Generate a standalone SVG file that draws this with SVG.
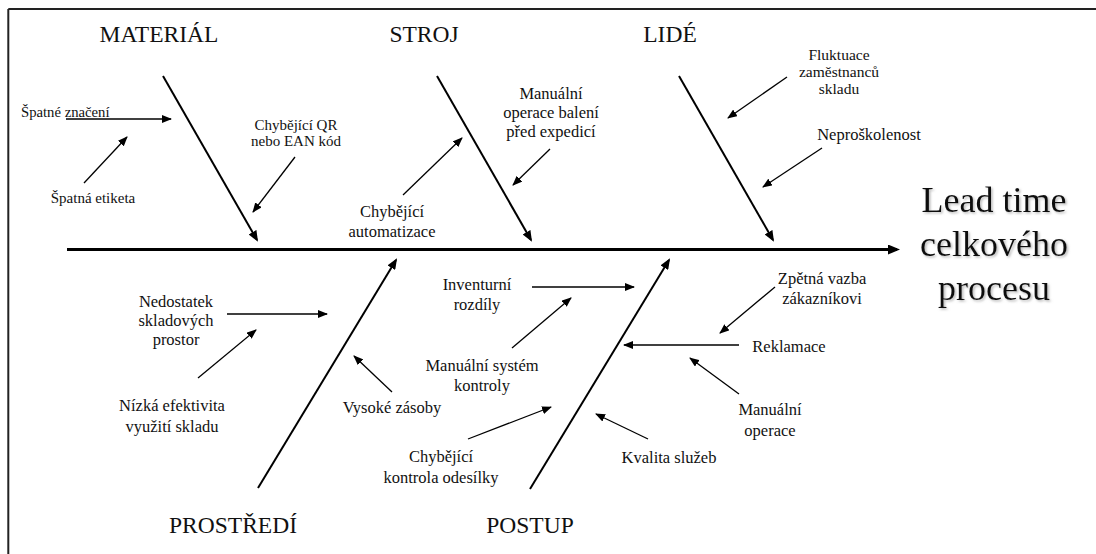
<svg xmlns="http://www.w3.org/2000/svg" width="1096" height="554" viewBox="0 0 1096 554">
  <defs>
    <style>
      .frame { stroke: #222; stroke-width: 2; fill: none; }
      .spine { stroke: #000; stroke-width: 3; fill: none; }
      .bone { stroke: #000; stroke-width: 2; fill: none; }
      .cause { stroke: #000; stroke-width: 1.3; fill: none; }
      text { font-family: "Liberation Serif", "Times New Roman", serif; fill: #111; }
      .cat { font-size: 23.5px; text-anchor: middle; }
      .lbl { font-size: 16.5px; text-anchor: middle; }
      .sm { font-size: 15px; text-anchor: middle; }
      .effect { font-size: 36px; text-anchor: middle; filter: url(#shadow); }
    </style>
    <marker id="headS" viewBox="0 0 10 8" refX="9" refY="4" markerWidth="10" markerHeight="8" markerUnits="userSpaceOnUse" orient="auto">
      <path d="M0,0 L10,4 L0,8 z" fill="#000"/>
    </marker>
    <marker id="headM" viewBox="0 0 11 9" refX="9" refY="4.5" markerWidth="11" markerHeight="9" markerUnits="userSpaceOnUse" orient="auto">
      <path d="M0,0 L11,4.5 L0,9 z" fill="#000"/>
    </marker>
    <marker id="headL" viewBox="0 0 12 10" refX="9" refY="5" markerWidth="12" markerHeight="10" markerUnits="userSpaceOnUse" orient="auto">
      <path d="M0,0 L12,5 L0,10 z" fill="#000"/>
    </marker>
    <filter id="shadow" x="-10%" y="-20%" width="120%" height="140%">
      <feDropShadow dx="1.5" dy="1.5" stdDeviation="0.8" flood-color="#888" flood-opacity="0.6"/>
    </filter>
  </defs>

  <rect width="1096" height="554" fill="#fff"/>

  <!-- frame edges -->
  <g id="frame">
    <line class="frame" x1="8.3" y1="9" x2="1096" y2="9"/>
    <line class="frame" x1="8.3" y1="9" x2="8.3" y2="554"/>
  </g>

  <!-- spine, category bones and cause arrows -->
  <g id="connectors">
    <line class="spine" x1="67" y1="249.5" x2="897" y2="249.5" marker-end="url(#headL)"/>

    <line class="bone" x1="163" y1="76" x2="257" y2="240" marker-end="url(#headM)"/>
    <line class="bone" x1="437" y1="76" x2="531" y2="240" marker-end="url(#headM)"/>
    <line class="bone" x1="679" y1="76" x2="773" y2="240" marker-end="url(#headM)"/>
    <line class="bone" x1="258" y1="488" x2="396" y2="260" marker-end="url(#headM)"/>
    <line class="bone" x1="530" y1="489" x2="669" y2="260" marker-end="url(#headM)"/>

    <line class="cause" x1="66" y1="119" x2="171" y2="119" marker-end="url(#headS)"/>
    <line class="cause" x1="84" y1="183" x2="127" y2="137" marker-end="url(#headS)"/>
    <line class="cause" x1="295" y1="157" x2="253" y2="212" marker-end="url(#headS)"/>
    <line class="cause" x1="403" y1="195" x2="462" y2="138" marker-end="url(#headS)"/>
    <line class="cause" x1="550" y1="149" x2="513" y2="185" marker-end="url(#headS)"/>
    <line class="cause" x1="787" y1="77" x2="728" y2="118" marker-end="url(#headS)"/>
    <line class="cause" x1="822" y1="148" x2="763" y2="187" marker-end="url(#headS)"/>

    <line class="cause" x1="227" y1="314" x2="327" y2="314" marker-end="url(#headS)"/>
    <line class="cause" x1="198" y1="378" x2="256" y2="330" marker-end="url(#headS)"/>
    <line class="cause" x1="392" y1="392" x2="354" y2="356" marker-end="url(#headS)"/>
    <line class="cause" x1="532" y1="287" x2="634" y2="287" marker-end="url(#headS)"/>
    <line class="cause" x1="512" y1="348" x2="571" y2="298" marker-end="url(#headS)"/>
    <line class="cause" x1="468" y1="439" x2="551" y2="407" marker-end="url(#headS)"/>
    <line class="cause" x1="648" y1="439" x2="596" y2="414" marker-end="url(#headS)"/>
    <line class="cause" x1="739" y1="345" x2="624" y2="345" marker-end="url(#headS)"/>
    <line class="cause" x1="739" y1="394" x2="690" y2="358" marker-end="url(#headS)"/>
    <line class="cause" x1="775" y1="287" x2="720" y2="333" marker-end="url(#headS)"/>
  </g>

  <!-- categories -->
  <g id="cat-material"><text class="cat" x="159" y="42">MATERIÁL</text></g>
  <g id="cat-stroj"><text class="cat" x="424" y="42">STROJ</text></g>
  <g id="cat-lide"><text class="cat" x="670" y="42">LIDÉ</text></g>
  <g id="cat-prostredi"><text class="cat" x="233" y="533">PROSTŘEDÍ</text></g>
  <g id="cat-postup"><text class="cat" x="530" y="533">POSTUP</text></g>

  <!-- effect -->
  <g id="effect">
    <text class="effect" x="994" y="212">Lead time</text>
    <text class="effect" x="994" y="256">celkového</text>
    <text class="effect" x="994" y="300">procesu</text>
  </g>

  <!-- causes: material -->
  <g id="c-spatne-znaceni"><text class="sm" x="21" y="117" style="text-anchor:start;font-size:14.7px">Špatné značení</text></g>
  <g id="c-spatna-etiketa"><text class="sm" x="93" y="203">Špatná etiketa</text></g>
  <g id="c-chybejici-qr">
    <text class="sm" x="296" y="130">Chybějící QR</text>
    <text class="sm" x="296" y="146">nebo EAN kód</text>
  </g>

  <!-- causes: stroj -->
  <g id="c-manualni-baleni">
    <text class="lbl" x="551" y="99">Manuální</text>
    <text class="lbl" x="551" y="118">operace balení</text>
    <text class="lbl" x="551" y="137">před expedicí</text>
  </g>
  <g id="c-automatizace">
    <text class="lbl" x="392" y="217">Chybějící</text>
    <text class="lbl" x="392" y="237">automatizace</text>
  </g>

  <!-- causes: lide -->
  <g id="c-fluktuace">
    <text class="lbl" x="839" y="60" style="font-size:15.5px">Fluktuace</text>
    <text class="lbl" x="839" y="77" style="font-size:15.5px">zaměstnanců</text>
    <text class="lbl" x="839" y="94" style="font-size:15.5px">skladu</text>
  </g>
  <g id="c-neproskolenost"><text class="lbl" x="869" y="140">Neproškolenost</text></g>

  <!-- causes: prostredi -->
  <g id="c-nedostatek">
    <text class="lbl" x="176" y="307">Nedostatek</text>
    <text class="lbl" x="176" y="326">skladových</text>
    <text class="lbl" x="176" y="345">prostor</text>
  </g>
  <g id="c-nizka-efektivita">
    <text class="lbl" x="172" y="411">Nízká efektivita</text>
    <text class="lbl" x="172" y="432">využití skladu</text>
  </g>
  <g id="c-vysoke-zasoby"><text class="lbl" x="392" y="413">Vysoké zásoby</text></g>

  <!-- causes: postup -->
  <g id="c-inventurni">
    <text class="lbl" x="477" y="290">Inventurní</text>
    <text class="lbl" x="477" y="310">rozdíly</text>
  </g>
  <g id="c-manualni-kontrola">
    <text class="lbl" x="482" y="371">Manuální systém</text>
    <text class="lbl" x="482" y="391">kontroly</text>
  </g>
  <g id="c-kontrola-odesilky">
    <text class="lbl" x="441" y="462">Chybějící</text>
    <text class="lbl" x="441" y="483">kontrola odesílky</text>
  </g>
  <g id="c-kvalita"><text class="lbl" x="669" y="463">Kvalita služeb</text></g>
  <g id="c-zpetna-vazba">
    <text class="lbl" x="822" y="284">Zpětná vazba</text>
    <text class="lbl" x="822" y="304">zákazníkovi</text>
  </g>
  <g id="c-reklamace"><text class="lbl" x="789" y="352">Reklamace</text></g>
  <g id="c-manualni-operace">
    <text class="lbl" x="770" y="415">Manuální</text>
    <text class="lbl" x="770" y="436">operace</text>
  </g>
</svg>
